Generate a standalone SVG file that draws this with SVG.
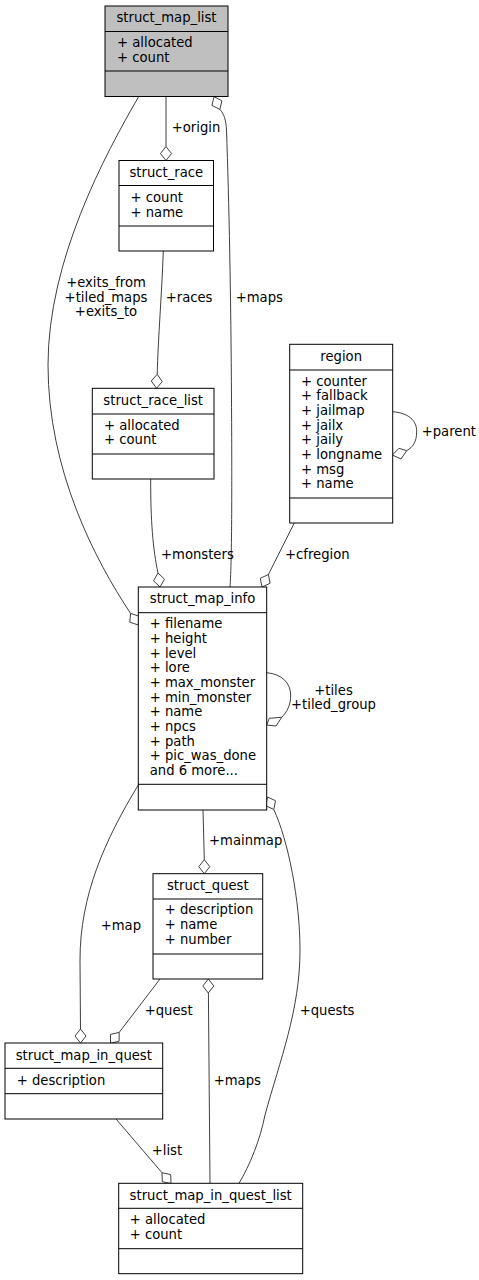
<svg xmlns="http://www.w3.org/2000/svg" width="479" height="1280" viewBox="0 0 479 1280">
<style>
text{font-family:"DejaVu Sans","Liberation Sans",sans-serif;font-size:13.2px;fill:#000}
.t{text-anchor:middle}
.c{text-anchor:middle}
rect.n{fill:#fff;stroke:#000;stroke-width:1}
rect.g{fill:#bfbfbf;stroke:#000;stroke-width:1}
line.s{stroke:#000;stroke-width:1}
.e path{fill:none;stroke:#404040;stroke-width:1}
.e polygon{fill:none;stroke:#404040;stroke-width:1}
</style>
<rect width="479" height="1280" fill="#fff"/>
<g id="connectors" class="e">
<!-- origin -->
<path d="M166,96.5 L166,146.5"/>
<polygon points="166,160.5 171.5,153.5 166,146.5 160.5,153.5"/>
<!-- maps top -->
<path d="M219.9,109.4 C224,114 226,120 226.5,130 C229,200 231,300 231.5,400 C232,480 232,560 230,587"/>
<polygon points="214,96.7 221.9,100.8 219.9,109.4 211.9,105.4"/>
<!-- exits -->
<path d="M138.7,96.5 C105,155 48,260 48,365 C48,470 95,560 130.6,613.4"/>
<polygon points="138.3,625 139,616.2 130.6,613.4 129.8,622.2"/>
<!-- races -->
<path d="M163.3,251 C162,290 158,340 157.2,374.3"/>
<polygon points="156.5,388.3 162.3,381.6 157.2,374.3 151.3,381"/>
<!-- monsters -->
<path d="M150.7,479 C150.5,520 153,550 158,573"/>
<polygon points="160,587 164.5,579.2 158,573 153.5,580.8"/>
<!-- cfregion -->
<path d="M294.3,523 L268.4,574.5"/>
<polygon points="262,587 270.1,583.3 268.4,574.5 260.3,578.3"/>
<!-- parent -->
<path d="M392.7,411.7 C408,413 417,420 416.7,432 C416.5,442 413,447 406.7,450.7"/>
<polygon points="392.3,455 399,448.3 406.7,450.7 401,459"/>
<!-- tiles -->
<path d="M266.7,672.7 C282,674 290.5,683 290.7,695 C290.8,705 287,712 281.7,717.3"/>
<polygon points="266.7,725 269.3,718.3 281.7,717.3 276,726"/>
<!-- mainmap -->
<path d="M203,810 L204.3,859.7"/>
<polygon points="204.3,873.7 209.8,866.7 204.3,859.7 198.8,866.7"/>
<!-- map -->
<path d="M138.3,785 C105,840 80,895 80,960 L80.5,1029"/>
<polygon points="80.5,1043 86,1036 80.5,1029 75,1036"/>
<!-- quest -->
<path d="M160,979 L119.2,1032.4"/>
<polygon points="110.5,1043.3 119.1,1041.2 119.2,1032.4 110.5,1034.4"/>
<!-- maps bottom -->
<path d="M210,1183.3 L208.4,993"/>
<polygon points="208.3,979 213.8,986 208.3,993 202.8,986"/>
<!-- list -->
<path d="M116,1119 L162,1172.7"/>
<polygon points="171,1183.5 170.7,1174.6 162,1172.7 162.3,1181.6"/>
<!-- quests -->
<path d="M239,1183.3 C250,1165 260,1140 265,1115 C280,1060 300,1010 300,950 C300,900 288,840 273.8,809.5"/>
<polygon points="267.5,797 275.5,800.7 273.8,809.5 265.7,805.7"/>
<text x="171.7" y="131.5">+origin</text>
<text class="c" x="106" y="287">+exits_from</text>
<text class="c" x="106" y="301.5">+tiled_maps</text>
<text class="c" x="106" y="316">+exits_to</text>
<text x="165.7" y="301.5">+races</text>
<text x="235.7" y="301.5">+maps</text>
<text x="421.7" y="436">+parent</text>
<text x="161" y="558.5">+monsters</text>
<text x="285" y="558.5">+cfregion</text>
<text class="c" x="333.5" y="694.5">+tiles</text>
<text class="c" x="333.5" y="709">+tiled_group</text>
<text x="209" y="844.5">+mainmap</text>
<text x="100.7" y="930">+map</text>
<text x="144.7" y="1014.5">+quest</text>
<text x="299.7" y="1014.5">+quests</text>
<text x="213.7" y="1084.5">+maps</text>
<text x="151.7" y="1154.5">+list</text>
</g>
<g id="struct_map_list">
<rect class="g" x="105" y="6" width="123" height="90.5"/>
<line class="s" x1="105" y1="31.5" x2="228" y2="31.5"/>
<line class="s" x1="105" y1="71" x2="228" y2="71"/>
<text class="t" x="166.5" y="22">struct_map_list</text>
<text x="117" y="46.5">+ allocated</text>
<text x="117" y="61.5">+ count</text>
</g>
<g id="struct_race">
<rect class="n" x="119" y="160.5" width="94.5" height="90.5"/>
<line class="s" x1="119" y1="185.5" x2="213.5" y2="185.5"/>
<line class="s" x1="119" y1="226" x2="213.5" y2="226"/>
<text class="t" x="166.3" y="177">struct_race</text>
<text x="130.5" y="201.5">+ count</text>
<text x="130.5" y="216.5">+ name</text>
</g>
<g id="struct_race_list">
<rect class="n" x="92.3" y="388.3" width="121.7" height="90.7"/>
<line class="s" x1="92.3" y1="414" x2="214" y2="414"/>
<line class="s" x1="92.3" y1="454" x2="214" y2="454"/>
<text class="t" x="153.2" y="404.5">struct_race_list</text>
<text x="104" y="429.5">+ allocated</text>
<text x="104" y="444">+ count</text>
</g>
<g id="region">
<rect class="n" x="289.7" y="344.3" width="103" height="178.7"/>
<line class="s" x1="289.7" y1="370" x2="392.7" y2="370"/>
<line class="s" x1="289.7" y1="498" x2="392.7" y2="498"/>
<text class="t" x="341.2" y="360.5">region</text>
<text x="301" y="385.5">+ counter</text>
<text x="301" y="400.2">+ fallback</text>
<text x="301" y="414.8">+ jailmap</text>
<text x="301" y="429.5">+ jailx</text>
<text x="301" y="444.2">+ jaily</text>
<text x="301" y="458.8">+ longname</text>
<text x="301" y="473.5">+ msg</text>
<text x="301" y="488.2">+ name</text>
</g>
<g id="struct_map_info">
<rect class="n" x="138.3" y="587" width="128.4" height="223"/>
<line class="s" x1="138.3" y1="612.7" x2="266.7" y2="612.7"/>
<line class="s" x1="138.3" y1="784.3" x2="266.7" y2="784.3"/>
<text class="t" x="202.5" y="603">struct_map_info</text>
<text x="149.7" y="628.3">+ filename</text>
<text x="149.7" y="643">+ height</text>
<text x="149.7" y="657.6">+ level</text>
<text x="149.7" y="672.3">+ lore</text>
<text x="149.7" y="687">+ max_monster</text>
<text x="149.7" y="701.6">+ min_monster</text>
<text x="149.7" y="716.3">+ name</text>
<text x="149.7" y="731">+ npcs</text>
<text x="149.7" y="745.7">+ path</text>
<text x="149.7" y="760.3">+ pic_was_done</text>
<text x="149.7" y="775">and 6 more...</text>
</g>
<g id="struct_quest">
<rect class="n" x="153" y="873.7" width="109.7" height="105.3"/>
<line class="s" x1="153" y1="899" x2="262.7" y2="899"/>
<line class="s" x1="153" y1="954" x2="262.7" y2="954"/>
<text class="t" x="207.8" y="890">struct_quest</text>
<text x="164.7" y="914.3">+ description</text>
<text x="164.7" y="929">+ name</text>
<text x="164.7" y="943.7">+ number</text>
</g>
<g id="struct_map_in_quest">
<rect class="n" x="5" y="1043" width="157.7" height="76"/>
<line class="s" x1="5" y1="1068.3" x2="162.7" y2="1068.3"/>
<line class="s" x1="5" y1="1093.7" x2="162.7" y2="1093.7"/>
<text class="t" x="83.8" y="1059.5">struct_map_in_quest</text>
<text x="16.7" y="1084.5">+ description</text>
</g>
<g id="struct_map_in_quest_list">
<rect class="n" x="118.7" y="1183.3" width="184" height="90.4"/>
<line class="s" x1="118.7" y1="1208.3" x2="302.7" y2="1208.3"/>
<line class="s" x1="118.7" y1="1248.7" x2="302.7" y2="1248.7"/>
<text class="t" x="210.7" y="1199.5">struct_map_in_quest_list</text>
<text x="129.7" y="1224">+ allocated</text>
<text x="129.7" y="1238.7">+ count</text>
</g>
</svg>
